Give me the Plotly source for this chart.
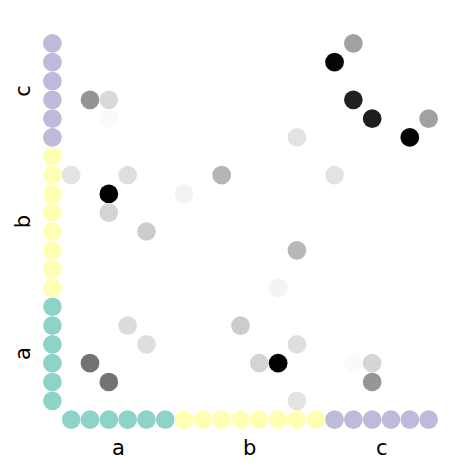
import plotly.graph_objects as go

# Groups (same order on both axes, from bottom/left)
groups = ["a", "b", "c"]
group_sizes = [6, 8, 6]

# Matrix cells: column index, row index (from bottom), value (0..1)
cell_cols = [1, 2, 2, 0, 3, 8, 2, 6, 2, 4, 15, 14, 15, 16, 19, 18, 12, 14,
             3, 9, 4, 1, 2, 12, 11, 12, 10, 11, 15, 16, 16, 12]
cell_rows = [16, 16, 15, 12, 12, 12, 11, 11, 10, 9, 19, 18, 16, 15, 15, 14, 14, 12,
             4, 4, 3, 2, 1, 8, 6, 3, 2, 2, 2, 2, 1, 0]
cell_vals = [0.42, 0.15, 0.02, 0.11, 0.13, 0.29, 1.0, 0.05, 0.17, 0.2, 0.37, 0.98,
             0.87, 0.88, 0.37, 0.98, 0.11, 0.11, 0.14, 0.2, 0.13, 0.55, 0.55, 0.28,
             0.047, 0.13, 0.17, 1.0, 0.02, 0.16, 0.41, 0.11]

group_colors = {"a": "#8dd3c7", "b": "#ffffb3", "c": "#bebada"}

# expand group membership per index
members = []
for g, n in zip(groups, group_sizes):
    members += [g] * n
N = len(members)

fig = go.Figure()

# bottom colour strip (column groups)
fig.add_trace(go.Scatter(
    x=list(range(N)), y=[-1] * N, mode="markers",
    marker=dict(size=18.7, color=[group_colors[m] for m in members], line=dict(width=0)),
    hoverinfo="skip", showlegend=False))
# left colour strip (row groups)
fig.add_trace(go.Scatter(
    x=[-1] * N, y=list(range(N)), mode="markers",
    marker=dict(size=18.7, color=[group_colors[m] for m in members], line=dict(width=0)),
    hoverinfo="skip", showlegend=False))
# matrix cells
fig.add_trace(go.Scatter(
    x=cell_cols, y=cell_rows, mode="markers",
    marker=dict(size=18.7, color=cell_vals, cmin=0, cmax=1,
                colorscale=[[0, "rgb(255,255,255)"], [1, "rgb(0,0,0)"]],
                line=dict(width=0)),
    showlegend=False))

# group labels
start = 0
for g, n in zip(groups, group_sizes):
    c = start + (n - 1) / 2
    fig.add_annotation(x=c, y=-0.048, xref="x", yref="paper", text=g, showarrow=False,
                       yanchor="middle",
                       font=dict(size=21, color="black", family="DejaVu Sans"))
    fig.add_annotation(x=-0.05, y=c, xref="paper", yref="y", text=g, showarrow=False,
                       textangle=-90, xanchor="center",
                       font=dict(size=21, color="black", family="DejaVu Sans"))
    start += n

fig.update_xaxes(range=[-1.5, 19.5], visible=False, fixedrange=True)
fig.update_yaxes(range=[-1.5, 19.5], visible=False, fixedrange=True)
fig.update_layout(width=472, height=472,
                  margin=dict(l=43, r=34, t=34, b=43),
                  paper_bgcolor="white", plot_bgcolor="white")

fig.write_html("out.html")
